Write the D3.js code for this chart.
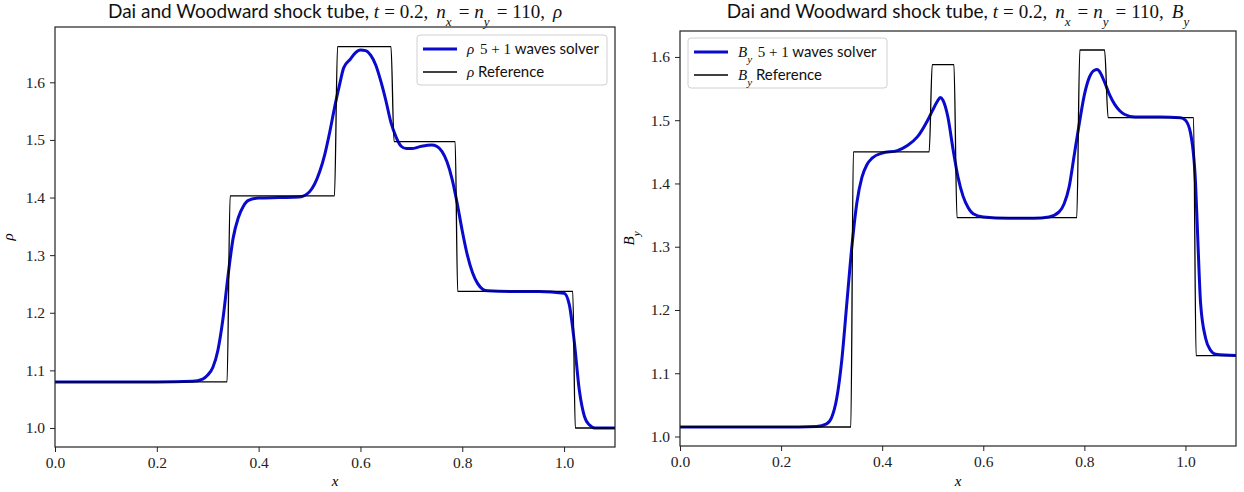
<!DOCTYPE html>
<html><head><meta charset="utf-8">
<script src="https://cdn.jsdelivr.net/npm/d3@7"></script>
<style>
body{margin:0;background:#fff;}
svg{display:block;}
.sans{font-family:"Lato","Open Sans",sans-serif;}
.serif{font-family:"Liberation Serif","DejaVu Serif",serif;}
</style></head>
<body>
<svg id="c" width="1244" height="492"></svg>
<script>
// ---------- data ----------
const xTicks = [0.0, 0.2, 0.4, 0.6, 0.8, 1.0];
const rhoTicks = [1.0, 1.1, 1.2, 1.3, 1.4, 1.5, 1.6];
const byTicks = [1.0, 1.1, 1.2, 1.3, 1.4, 1.5, 1.6];

const rhoRefX = [0, 0.338, 0.344, 0.549, 0.555, 0.660, 0.666, 0.786, 0.791, 1.017, 1.022, 1.1];
const rhoRefY = [1.08, 1.08, 1.403, 1.403, 1.662, 1.662, 1.497, 1.497, 1.237, 1.237, 1.0, 1.0];

const rhoSolX = [0, 0.10, 0.20, 0.27, 0.29, 0.30, 0.31, 0.32, 0.33, 0.34, 0.35, 0.36, 0.37, 0.38, 0.40, 0.44, 0.48, 0.50, 0.52, 0.53, 0.54, 0.55, 0.56, 0.567, 0.58, 0.59, 0.60, 0.61, 0.62, 0.63, 0.64, 0.65, 0.66, 0.67, 0.68, 0.69, 0.70, 0.72, 0.74, 0.75, 0.76, 0.77, 0.78, 0.79, 0.80, 0.81, 0.82, 0.83, 0.84, 0.85, 0.90, 0.95, 1.00, 1.01, 1.02, 1.03, 1.04, 1.05, 1.06, 1.1];
const rhoSolY = [1.08, 1.08, 1.08, 1.081, 1.085, 1.092, 1.105, 1.135, 1.19, 1.265, 1.33, 1.365, 1.385, 1.395, 1.399, 1.40, 1.401, 1.41, 1.445, 1.475, 1.515, 1.56, 1.60, 1.625, 1.64, 1.651, 1.656, 1.655, 1.647, 1.63, 1.602, 1.568, 1.53, 1.505, 1.489, 1.485, 1.485, 1.489, 1.491, 1.489, 1.48, 1.462, 1.432, 1.39, 1.342, 1.30, 1.27, 1.251, 1.241, 1.238, 1.237, 1.237, 1.234, 1.215, 1.15, 1.065, 1.02, 1.005, 1.0, 1.0];

const byRefX = [0, 0.338, 0.343, 0.493, 0.499, 0.542, 0.548, 0.785, 0.791, 0.840, 0.847, 1.016, 1.021, 1.1];
const byRefY = [1.015, 1.015, 1.450, 1.450, 1.588, 1.588, 1.346, 1.346, 1.611, 1.611, 1.504, 1.504, 1.128, 1.128];

const bySolX = [0, 0.10, 0.20, 0.27, 0.29, 0.30, 0.31, 0.32, 0.33, 0.34, 0.35, 0.36, 0.37, 0.38, 0.40, 0.43, 0.45, 0.47, 0.49, 0.50, 0.51, 0.515, 0.52, 0.53, 0.54, 0.55, 0.56, 0.57, 0.58, 0.60, 0.65, 0.70, 0.73, 0.75, 0.76, 0.77, 0.78, 0.79, 0.80, 0.81, 0.82, 0.825, 0.83, 0.84, 0.85, 0.86, 0.87, 0.88, 0.90, 0.95, 0.99, 1.00, 1.01, 1.02, 1.025, 1.03, 1.04, 1.05, 1.06, 1.1];
const bySolY = [1.015, 1.015, 1.015, 1.016, 1.02, 1.03, 1.06, 1.12, 1.21, 1.30, 1.37, 1.41, 1.43, 1.44, 1.448, 1.452, 1.46, 1.474, 1.50, 1.516, 1.531, 1.536, 1.532, 1.505, 1.455, 1.41, 1.38, 1.362, 1.352, 1.347, 1.345, 1.345, 1.347, 1.355, 1.368, 1.395, 1.445, 1.495, 1.54, 1.568, 1.579, 1.580, 1.577, 1.56, 1.54, 1.525, 1.515, 1.509, 1.505, 1.505, 1.504, 1.50, 1.48, 1.40, 1.30, 1.21, 1.155, 1.136, 1.13, 1.128];

// ---------- drawing ----------
const svg = d3.select("#c");
const blue = "#0a0acd";

function panel(opt) {
  const x = d3.scaleLinear().domain([0, 1.1]).range([opt.left, opt.right]);
  const y = d3.scaleLinear().domain(opt.ydom).range([opt.bottom, opt.top]);
  const g = svg.append("g");

  const line = d3.line().x(d => x(d[0])).y(d => y(d[1])).curve(d3.curveMonotoneX);
  g.append("path").datum(d3.zip(opt.solX, opt.solY)).attr("d", line)
    .attr("fill", "none").attr("stroke", blue).attr("stroke-width", 3).attr("stroke-linejoin", "round");
  g.append("path").datum(d3.zip(opt.refX, opt.refY)).attr("d", line)
    .attr("fill", "none").attr("stroke", "#000").attr("stroke-width", 1.3);

  const ax = g.append("g").attr("transform", `translate(0,${opt.bottom})`)
    .call(d3.axisBottom(x).tickValues(xTicks).tickFormat(d3.format(".1f")).tickSize(5).tickPadding(5));
  const ay = g.append("g").attr("transform", `translate(${opt.left},0)`)
    .call(d3.axisLeft(y).tickValues(opt.yticks).tickFormat(d3.format(".1f")).tickSize(5).tickPadding(5));
  [ax, ay].forEach(a => {
    a.select(".domain").remove();
    a.selectAll("line").attr("stroke", "#222").attr("stroke-width", 1);
    a.selectAll("text").attr("class", "serif").style("font-size", "15.5px").attr("fill", "#222");
  });

  g.append("rect").attr("x", opt.left).attr("y", opt.top)
    .attr("width", opt.right - opt.left).attr("height", opt.bottom - opt.top)
    .attr("fill", "none").attr("stroke", "#222").attr("stroke-width", 1.2);

  g.append("text").attr("class", "serif").attr("x", (opt.left + opt.right) / 2).attr("y", 486)
    .attr("text-anchor", "middle").style("font-size", "15px").style("font-style", "italic").text("x");

  const yl = g.append("text").attr("class", "serif")
    .attr("transform", `translate(${opt.ylabX},${(opt.top + opt.bottom) / 2}) rotate(-90)`)
    .attr("text-anchor", "middle").style("font-size", "15px").style("font-style", "italic");
  yl.append("tspan").text(opt.sym);
  if (opt.sub) yl.append("tspan").attr("baseline-shift", "sub").style("font-size", "11px").text(opt.sub);

  // title
  const cx = (opt.left + opt.right) / 2;
  const t = g.append("text").attr("x", cx).attr("y", 18).attr("text-anchor", "middle")
    .style("font-size", "19px").attr("fill", "#111");
  const sp = 5;
  const it = (s, dx) => t.append("tspan").attr("class", "serif").style("font-style", "italic").attr("dx", dx || 0).text(s);
  const rm = (s, dx) => t.append("tspan").attr("class", "serif").attr("dx", dx || 0).text(s);
  const sb = s => t.append("tspan").attr("class", "serif").style("font-style", "italic")
    .attr("baseline-shift", "sub").style("font-size", "13px").text(s);
  t.append("tspan").attr("class", "sans").text("Dai and Woodward shock tube, ");
  it("t");
  rm("=", sp);
  rm("0.2,", sp);
  it("n", sp + 3); sb("x");
  rm("=", sp + 2);
  it("n", sp); sb("y");
  rm("=", sp + 2);
  rm("110,", sp);
  it(opt.sym, sp + 3);
  if (opt.sub) sb(opt.sub);

  // legend
  const L = opt.legend;
  const lg = g.append("g");
  lg.append("rect").attr("x", L.x).attr("y", L.y).attr("width", L.w).attr("height", 50)
    .attr("rx", 3).attr("fill", "rgba(255,255,255,0.8)").attr("stroke", "#d0d0d0").attr("stroke-width", 1);
  const entries = [
    {color: blue, w: 3, label: " waves solver", mid: " 5 + 1"},
    {color: "#000", w: 1.3, label: " Reference", mid: ""}
  ];
  entries.forEach((e, i) => {
    const yy = L.y + 14 + i * 23;
    lg.append("line").attr("x1", L.x + 6).attr("x2", L.x + 40).attr("y1", yy).attr("y2", yy)
      .attr("stroke", e.color).attr("stroke-width", e.w);
    const tx = lg.append("text").attr("x", L.x + 50).attr("y", yy + 5).style("font-size", "15px").attr("fill", "#111");
    tx.append("tspan").attr("class", "serif").style("font-style", "italic").text(opt.sym);
    if (opt.sub) tx.append("tspan").attr("class", "serif").style("font-style", "italic").attr("baseline-shift", "sub").style("font-size", "11px").text(opt.sub);
    if (e.mid) tx.append("tspan").attr("class", "serif").attr("dx", 2).text(e.mid);
    tx.append("tspan").attr("class", "sans").text(e.label);
  });
}

panel({left: 55, right: 615, top: 27, bottom: 447, ydom: [0.967, 1.696], yticks: rhoTicks,
  solX: rhoSolX, solY: rhoSolY, refX: rhoRefX, refY: rhoRefY, sym: "ρ", sub: "", ylabX: 13,
  legend: {x: 417, y: 35, w: 190}});
panel({left: 680, right: 1236, top: 31, bottom: 446, ydom: [0.985, 1.641], yticks: byTicks,
  solX: bySolX, solY: bySolY, refX: byRefX, refY: byRefY, sym: "B", sub: "y", ylabX: 634,
  legend: {x: 688, y: 38, w: 199}});
</script>
</body></html>
